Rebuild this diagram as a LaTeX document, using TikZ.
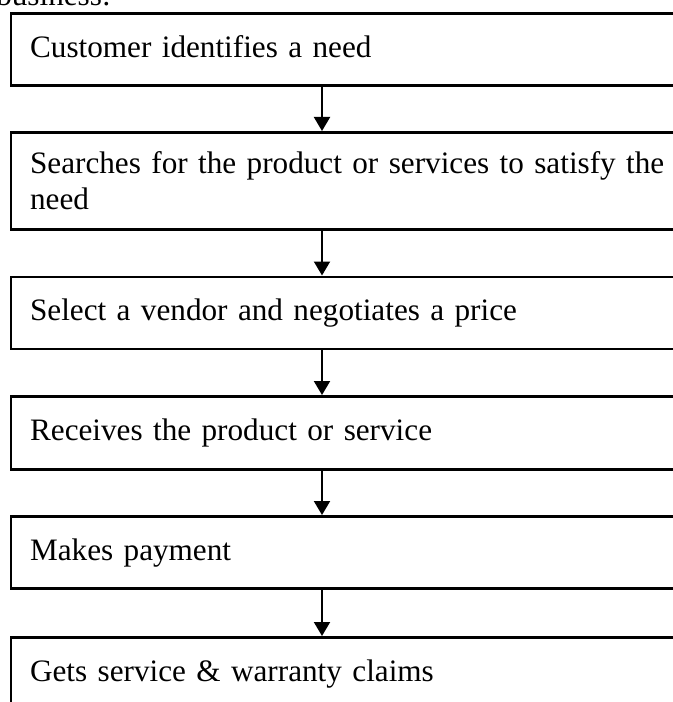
\documentclass[tikz,border=0pt]{standalone}
\usepackage{fontspec}
\setmainfont{Liberation Serif}
\usetikzlibrary{arrows.meta}
\begin{document}
\begin{tikzpicture}[x=0.75pt,y=-0.75pt,
  basebox/.style={draw, line width=1.9pt, rectangle, anchor=north west,
    text width=525pt, inner xsep=14.5pt, inner ysep=0pt, align=left,
    font=\fontsize{23.4}{27}\selectfont},
  stepbox/.style={basebox, minimum height=54pt, text height=17pt, text depth=5pt},
  flow/.style={-{Triangle[length=10.5pt,width=12pt]}, line width=1.5pt},
  headtext/.style={anchor=base west, inner sep=0pt, font=\fontsize{23.4}{27}\selectfont}]
\useasboundingbox (0,0) rectangle (672,702);
\node[headtext] (hd) at (-4,6) {business:};
\coordinate (ax) at (322,0);
\node[stepbox] (b1) at (9.5,12) {Customer identifies a need};
\node[basebox, minimum height=72.75pt] (b2) at (9.5,131) {Searches for the product or services to satisfy the\\ need};
\node[stepbox] (b3) at (9.5,275.5) {Select a vendor and negotiates a price};
\node[stepbox, minimum height=54.75pt] (b4) at (9.5,395) {Receives the product or service};
\node[stepbox] (b5) at (9.5,515) {Makes payment};
\node[stepbox] (b6) at (9.5,636) {Gets service \& warranty claims};
\draw[flow] (b1.south -| ax) -- (b2.north -| ax);
\draw[flow] (b2.south -| ax) -- (b3.north -| ax);
\draw[flow] (b3.south -| ax) -- (b4.north -| ax);
\draw[flow] (b4.south -| ax) -- (b5.north -| ax);
\draw[flow] (b5.south -| ax) -- (b6.north -| ax);
\end{tikzpicture}
\end{document}
